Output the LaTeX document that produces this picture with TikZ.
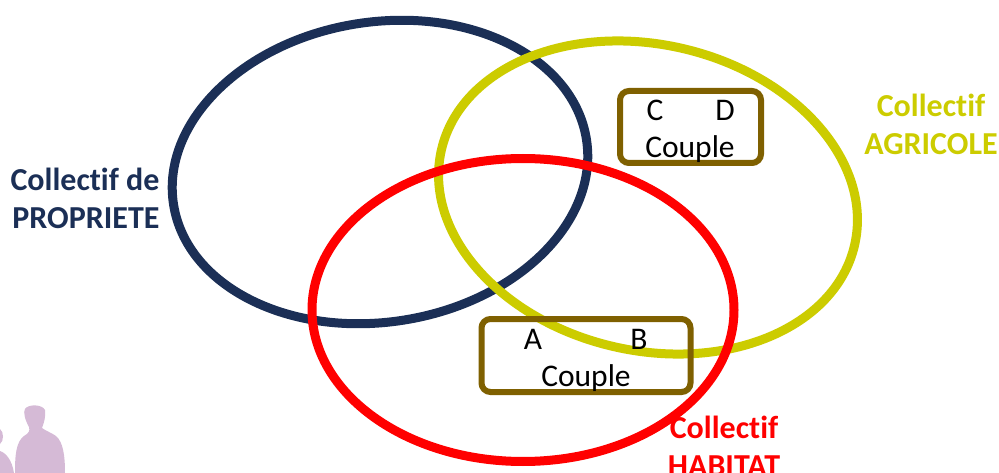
\documentclass[tikz,border=0pt]{standalone}
\usepackage{fontspec}
\setmainfont[Ligatures=NoCommon]{Carlito}
\definecolor{navyc}{HTML}{1B2F56}
\definecolor{yellowc}{HTML}{CCCC00}
\definecolor{redc}{HTML}{FF0000}
\definecolor{brownc}{HTML}{7F6000}
\definecolor{mauvec}{HTML}{D5BAD6}
\tikzset{
  ring/.style={line width=9pt,draw},
  couplebox/.style={draw=brownc,line width=6pt,rounded corners=9pt},
  boxtext/.style={text=black,font=\fontsize{31.5}{36}\selectfont,inner sep=0pt,anchor=center},
  lbl/.style={font=\fontsize{32}{38}\selectfont\bfseries,align=center,inner sep=0pt,anchor=center},
}
\begin{document}
\begin{tikzpicture}[x=1pt,y=-1pt]
\useasboundingbox (0,0) rectangle (999,473);
\clip (0,0) rectangle (999,473);
% silhouettes
\fill[mauvec] (15,473) .. controls (15,455) and (16,442) .. (24,436) .. controls (29,433) and (30,431) .. (29,427)
 .. controls (25,420) and (23,412) .. (25,409) .. controls (28,404) and (42,404) .. (45,410) .. controls (46,416) and (44,423) .. (42,428)
 .. controls (46,431) and (52,433) .. (56,436) .. controls (63,442) and (65,455) .. (65,473) -- cycle;
\fill[mauvec] (0,429) .. controls (4,432) and (4,441) .. (0,444) -- cycle;
\fill[mauvec] (0,451) .. controls (6,453) and (12,460) .. (14,473) -- (0,473) -- cycle;
% ellipses
\draw[ring,navyc] (380,172) ellipse[x radius=209,y radius=150,rotate=9];
\draw[ring,yellowc] (648,197.5) ellipse[x radius=212,y radius=153,rotate=-13];
\draw[ring,redc] (523,310) ellipse[x radius=211,y radius=151.5];
% boxes
\node[couplebox,minimum width=141pt,minimum height=72pt] (cd) at (690.5,127) {};
\node[couplebox,minimum width=209pt,minimum height=73pt] (ab) at (586,355.5) {};
\node[boxtext] (c) at (655,110) {C};
\node[boxtext] (d) at (725,110) {D};
\node[boxtext] (cpl1) at (690,149) {Couple};
\node[boxtext] (a) at (533,339) {A};
\node[boxtext] (b) at (639,339) {B};
\node[boxtext] (cpl2) at (586,378) {Couple};
% labels
\node[lbl,text=navyc,align=right] (prop) at (85,198) {Collectif de\\PROPRIETE};
\node[lbl,text=yellowc] (agri) at (931,124) {Collectif\\AGRICOLE};
\node[lbl,text=redc] (hab) at (724,446) {Collectif\\HABITAT};
\end{tikzpicture}
\end{document}
